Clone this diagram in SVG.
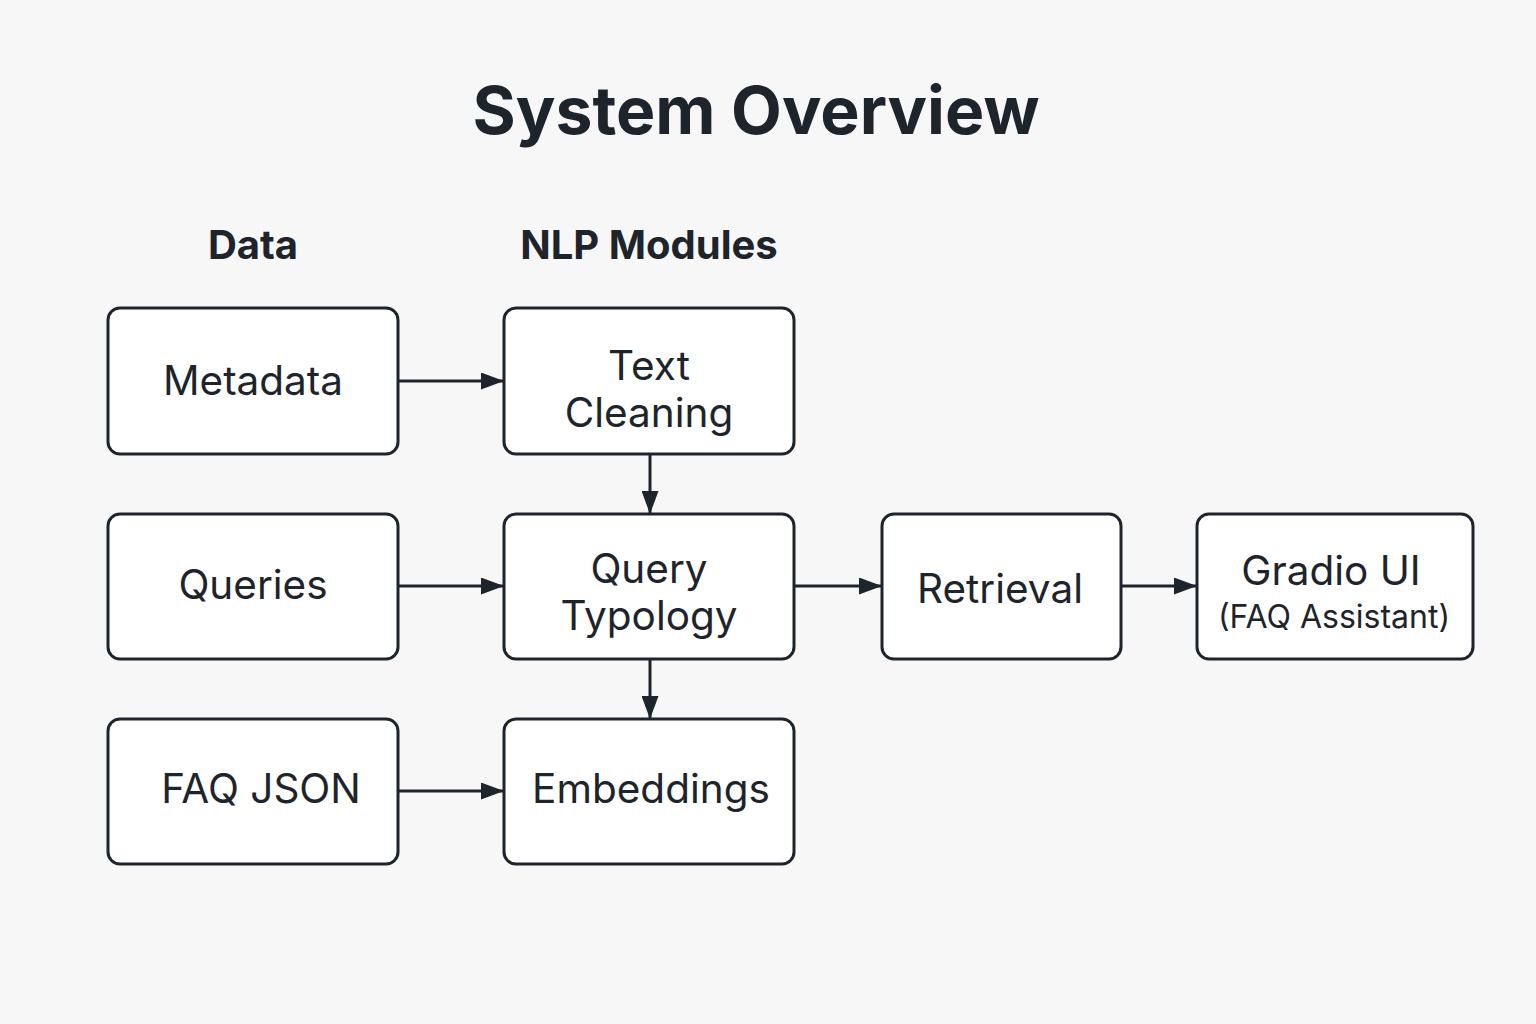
<svg xmlns="http://www.w3.org/2000/svg" width="1536" height="1024" viewBox="0 0 1536 1024">
<style>
.bg{fill:#f7f7f7}
.box{fill:#ffffff;stroke:#1e242c;stroke-width:3}
.t{font-family:Inter,"Noto Sans","DejaVu Sans",sans-serif;fill:#1e242c;text-anchor:middle}
.lbl{font-size:40.5px}
.sub{font-size:32px}
.hdr{font-size:40px;font-weight:700}
.title{font-size:66px;font-weight:700}
.edge{stroke:#1e242c;stroke-width:3;fill:none;marker-end:url(#arr)}
</style>
<defs>
<marker id="arr" viewBox="0 0 23 17" refX="23" refY="8.5" markerWidth="23" markerHeight="17" markerUnits="userSpaceOnUse" orient="auto">
<path d="M0,0 L23,8.5 L0,17 Z" fill="#1e242c"/>
</marker>
</defs>
<rect class="bg" x="0" y="0" width="1536" height="1024"/>
<text class="t title" x="756" y="134">System Overview</text>
<text class="t hdr" x="253" y="259">Data</text>
<text class="t hdr" x="649" y="259">NLP Modules</text>
<g id="connectors">
<line class="edge" x1="399" y1="381" x2="504" y2="381"/>
<line class="edge" x1="399" y1="586" x2="504" y2="586"/>
<line class="edge" x1="399" y1="791" x2="504" y2="791"/>
<line class="edge" x1="650" y1="455" x2="650" y2="514"/>
<line class="edge" x1="650" y1="660" x2="650" y2="719"/>
<line class="edge" x1="795" y1="586" x2="882" y2="586"/>
<line class="edge" x1="1122" y1="586" x2="1197" y2="586"/>
</g>
<g id="metadata"><rect class="box" x="108" y="308" width="290" height="146" rx="12"/><text class="t lbl" x="253" y="395">Metadata</text></g>
<g id="queries"><rect class="box" x="108" y="514" width="290" height="145" rx="12"/><text class="t lbl" x="253" y="599">Queries</text></g>
<g id="faq-json"><rect class="box" x="108" y="719" width="290" height="145" rx="12"/><text class="t lbl" x="261" y="803">FAQ JSON</text></g>
<g id="text-cleaning"><rect class="box" x="504" y="308" width="290" height="146" rx="12"/><text class="t lbl" x="649" y="380">Text</text><text class="t lbl" x="649" y="427">Cleaning</text></g>
<g id="query-typology"><rect class="box" x="504" y="514" width="290" height="145" rx="12"/><text class="t lbl" x="649" y="583">Query</text><text class="t lbl" x="649" y="630">Typology</text></g>
<g id="embeddings"><rect class="box" x="504" y="719" width="290" height="145" rx="12"/><text class="t lbl" x="651" y="803">Embeddings</text></g>
<g id="retrieval"><rect class="box" x="882" y="514" width="239" height="145" rx="12"/><text class="t lbl" x="1000" y="603">Retrieval</text></g>
<g id="gradio-ui"><rect class="box" x="1197" y="514" width="276" height="145" rx="12"/><text class="t lbl" x="1331" y="585">Gradio UI</text><text class="t sub" x="1334" y="628">(FAQ Assistant)</text></g>
</svg>
